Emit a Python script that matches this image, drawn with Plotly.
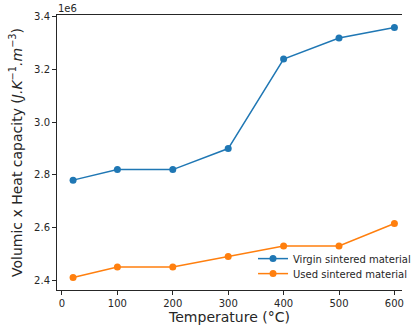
import plotly.graph_objects as go

# Temperature steps (°C)
temperature = [20, 100, 200, 300, 400, 500, 600]

# Volumic heat capacity (J.K^-1.m^-3)
virgin = [2.78e6, 2.82e6, 2.82e6, 2.90e6, 3.24e6, 3.32e6, 3.36e6]
used = [2.41e6, 2.45e6, 2.45e6, 2.49e6, 2.53e6, 2.53e6, 2.615e6]

series_names = ["Virgin sintered material", "Used sintered material"]
series_colors = ["#1f77b4", "#ff7f0e"]

x_ticks = [0, 100, 200, 300, 400, 500, 600]
y_ticks = [2.4e6, 2.6e6, 2.8e6, 3.0e6, 3.2e6, 3.4e6]
y_tick_labels = ["2.4", "2.6", "2.8", "3.0", "3.2", "3.4"]

FONT = "DejaVu Sans, sans-serif"
INK = "#262626"

fig = go.Figure()
for i, (name, values, color) in enumerate(zip(series_names, [virgin, used], series_colors)):
    fig.add_trace(go.Scatter(
        x=temperature, y=values, name=name, mode="lines+markers",
        line=dict(color=color, width=1.5),
        marker=dict(color=color, size=7),
        legend="legend" if i == 0 else "legend2",
    ))

axis_common = dict(
    showgrid=False, zeroline=False, showline=True, linecolor=INK, linewidth=1,
    ticks="outside", ticklen=4, tickwidth=1, tickcolor=INK,
    tickfont=dict(family=FONT, size=10, color=INK),
)

# One single-entry legend per series so the rows sit close together
legend_common = dict(
    x=(261 - 57) / 359, xanchor="left", yanchor="middle",
    bgcolor="rgba(255,255,255,0)", borderwidth=0,
    font=dict(family=FONT, size=10, color=INK), itemwidth=30,
)

fig.update_layout(
    width=416, height=331,
    margin=dict(l=57, r=0, t=15, b=41),
    paper_bgcolor="white", plot_bgcolor="white",
    font=dict(family=FONT, color=INK),
    xaxis=dict(
        range=[-9, 613.7], tickvals=x_ticks, mirror=True,
        title=dict(text="Temperature (°C)", font=dict(family=FONT, size=14, color=INK), standoff=3),
        **axis_common,
    ),
    yaxis=dict(
        range=[2.3625e6, 3.4075e6], tickvals=y_ticks, ticktext=y_tick_labels,
        title=dict(
            text="Volumic x Heat capacity (<i>J.K</i><sup>−1</sup><i>.m</i><sup>−3</sup>)",
            font=dict(family=FONT, size=14, color=INK), standoff=8,
        ),
        **axis_common,
    ),
    legend=dict(y=(290.4 - 259) / 275, **legend_common),
    legend2=dict(y=(290.4 - 274) / 275, **legend_common),
    showlegend=True,
)

# Scale factor shown above the y axis
fig.add_annotation(
    text="1e6", xref="paper", yref="paper", x=0, y=1, xanchor="left", yanchor="bottom",
    showarrow=False, font=dict(family=FONT, size=10, color=INK), xshift=-1, yshift=-1,
)

fig.write_html("out.html")
